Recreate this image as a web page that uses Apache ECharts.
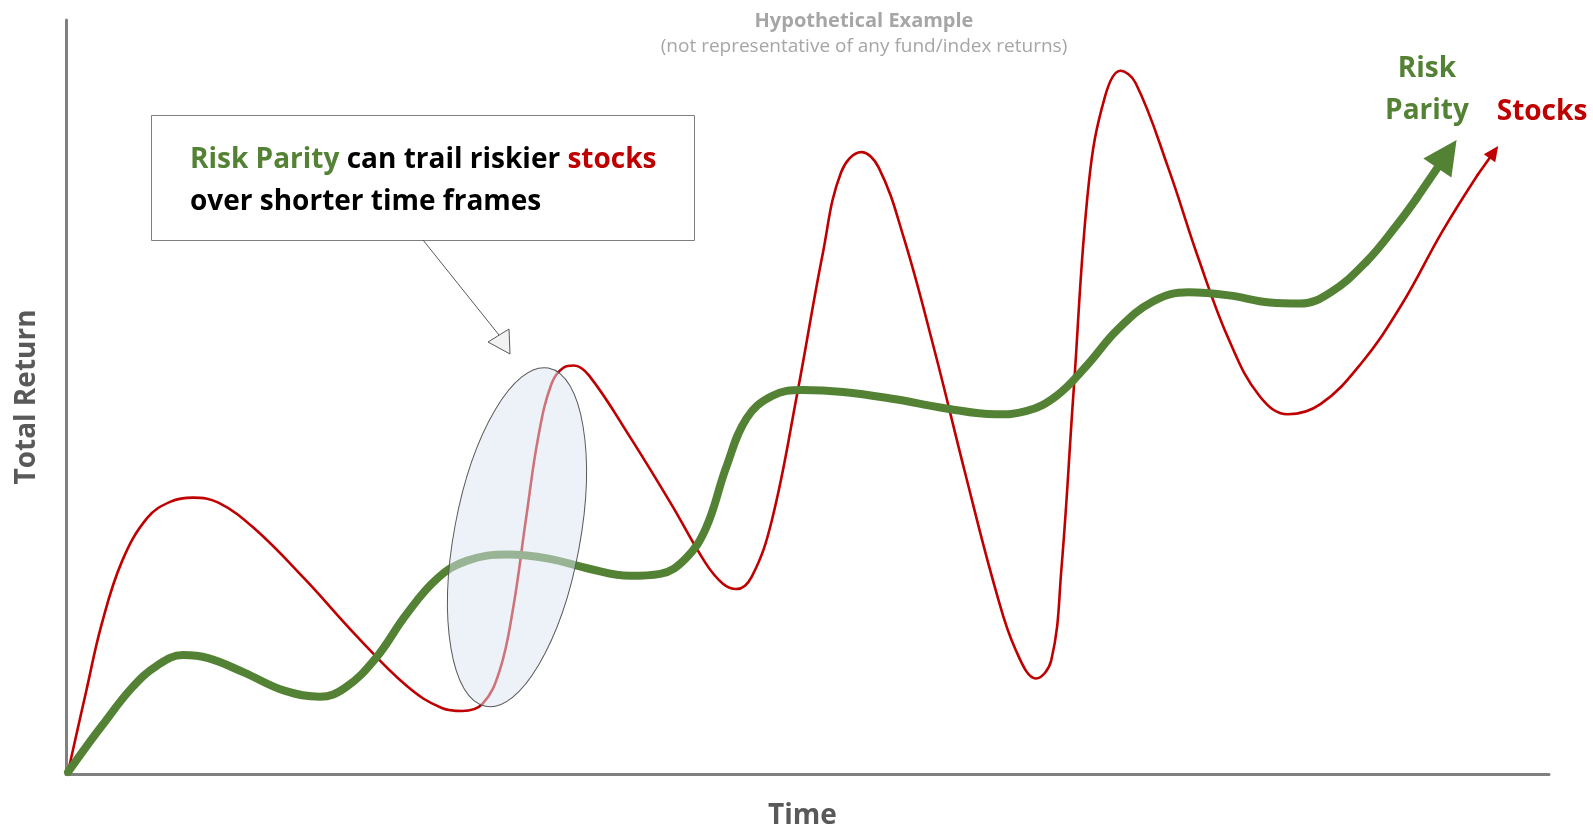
<!DOCTYPE html>
<html>
<head>
<meta charset="utf-8">
<script src="https://cdn.jsdelivr.net/npm/echarts@6/dist/echarts.min.js"></script>
<style>
  html, body { margin: 0; padding: 0; background: #ffffff; }
  #chart { width: 1593px; height: 827px; }
</style>
</head>
<body>
<div id="chart"></div>
<script>
// Hypothetical growth paths (time units, total-return units)
const stocksTime  = [2, 20, 35, 55, 80, 103, 125, 150, 185, 235, 285, 335, 370, 390, 410, 427, 440, 453, 465, 478, 490, 500, 515, 555, 595, 630, 647, 660, 675, 695, 720, 745, 763, 783, 800, 825, 855, 885, 915, 935, 955, 970, 980, 992, 1007, 1023, 1038, 1053, 1085, 1115, 1145, 1175, 1203, 1235, 1275, 1315, 1355, 1390];
const stocksValue = [2, 82, 147, 209, 252, 268, 272, 267, 242, 192, 137, 87, 65, 62, 69, 102, 162, 252, 332, 384, 400, 402, 392, 332, 267, 207, 187, 182, 194, 250, 375, 512, 592, 612, 597, 527, 417, 297, 182, 122, 94, 112, 202, 377, 582, 667, 692, 680, 597, 507, 427, 372, 354, 364, 404, 462, 534, 590];
const stocksTip   = [1410, 618];

const riskParityTime  = [2, 20, 35, 65, 90, 115, 140, 175, 215, 250, 275, 305, 335, 365, 395, 435, 475, 515, 555, 585, 610, 630, 650, 670, 695, 725, 765, 815, 865, 915, 945, 975, 1005, 1035, 1070, 1105, 1145, 1185, 1215, 1245, 1280, 1310, 1330];
const riskParityValue = [2, 27, 47, 85, 107, 117, 114, 100, 82, 76, 85, 114, 157, 192, 210, 216, 212, 202, 195, 197, 212, 242, 302, 350, 372, 378, 376, 369, 360, 354, 357, 372, 402, 437, 465, 474, 471, 464, 463, 474, 504, 540, 567];
const riskParityTip   = [1369, 624];

// Short-horizon window highlighted on the chart
const windowCenter = [444, 233];

const xMax = 1460;
const yMax = 742;

const GREEN = '#548235';
const RED = '#c00000';
const FONT = '"Open Sans", Lato, sans-serif';

const zip = (xs, ys) => xs.map((x, i) => [x, ys[i]]);
const last = (arr) => arr[arr.length - 1];

// Straight end segment of a path finished with a filled triangular arrowhead
function arrowSeries(from, tip, color, width, headLen, headWidth, z) {
  return {
    type: 'custom', coordinateSystem: 'cartesian2d', z: z, silent: true, clip: false,
    data: [[from[0], from[1], tip[0], tip[1]]],
    renderItem: function (params, api) {
      const p0 = api.coord([api.value(0), api.value(1)]);
      const p1 = api.coord([api.value(2), api.value(3)]);
      const dx = p1[0] - p0[0], dy = p1[1] - p0[1];
      const len = Math.sqrt(dx * dx + dy * dy) || 1;
      const ux = dx / len, uy = dy / len;
      const bx = p1[0] - ux * headLen, by = p1[1] - uy * headLen;
      const nx = -uy * headWidth / 2, ny = ux * headWidth / 2;
      return {
        type: 'group',
        children: [
          {
            type: 'line',
            shape: { x1: p0[0], y1: p0[1], x2: bx + ux * 2, y2: by + uy * 2 },
            style: { stroke: color, lineWidth: width, lineCap: 'round' }
          },
          {
            type: 'polygon',
            shape: { points: [[p1[0], p1[1]], [bx + nx, by + ny], [bx - nx, by - ny]] },
            style: { fill: color }
          }
        ]
      };
    }
  };
}

const chart = echarts.init(document.getElementById('chart'), null, { renderer: 'canvas' });

chart.setOption({
  animation: false,
  backgroundColor: '#ffffff',
  grid: { left: 66, right: 44, top: 20, bottom: 53, containLabel: false, outerBoundsMode: 'none' },
  xAxis: {
    type: 'value', min: 0, max: xMax,
    name: 'Time', nameLocation: 'middle', nameGap: 28,
    nameTextStyle: { fontFamily: FONT, fontWeight: 'bold', fontSize: 28, color: '#595959', padding: [0, 10, 0, 0] },
    axisLine: { show: true, lineStyle: { color: '#808080', width: 3 } },
    axisTick: { show: false }, axisLabel: { show: false }, splitLine: { show: false }
  },
  yAxis: {
    type: 'value', min: 0, max: yMax,
    name: 'Total Return', nameLocation: 'middle', nameGap: 25,
    nameTextStyle: { fontFamily: FONT, fontWeight: 'bold', fontSize: 28, color: '#595959' },
    axisLine: { show: true, lineStyle: { color: '#808080', width: 3 } },
    axisTick: { show: false }, axisLabel: { show: false }, splitLine: { show: false }
  },
  series: [
    {
      name: 'Stocks', type: 'line', z: 2,
      data: zip(stocksTime, stocksValue),
      smooth: 0.4,
      showSymbol: false, symbol: 'none',
      lineStyle: { color: RED, width: 2.6, cap: 'round', join: 'round' }
    },
    arrowSeries([last(stocksTime), last(stocksValue)], stocksTip, RED, 2.6, 15, 14, 2),
    {
      name: 'Risk Parity', type: 'line', z: 3,
      data: zip(riskParityTime, riskParityValue),
      smooth: 0.4,
      showSymbol: false, symbol: 'none',
      lineStyle: { color: GREEN, width: 8, cap: 'round', join: 'round' }
    },
    arrowSeries([last(riskParityTime), last(riskParityValue)], riskParityTip, GREEN, 8, 34, 34, 3),
    {
      name: 'window', type: 'custom', z: 6, silent: true, clip: false,
      data: [windowCenter],
      renderItem: function (params, api) {
        const p = api.coord([api.value(0), api.value(1)]);
        return {
          type: 'ellipse',
          x: p[0], y: p[1],
          rotation: -10.5 * Math.PI / 180,
          shape: { cx: 0, cy: 0, rx: 63, ry: 172 },
          style: { fill: 'rgba(219,229,243,0.5)', stroke: '#595959', lineWidth: 1 }
        };
      }
    }
  ],
  graphic: [
    {
      type: 'text', x: 864, y: 21, z: 10,
      style: { text: 'Hypothetical Example', font: 'bold 20px ' + FONT, fill: '#a6a6a6', align: 'center', verticalAlign: 'middle' }
    },
    {
      type: 'text', x: 864, y: 47, z: 10,
      style: { text: '(not representative of any fund/index returns)', font: '19px ' + FONT, fill: '#a6a6a6', align: 'center', verticalAlign: 'middle' }
    },
    {
      type: 'rect', z: 10,
      shape: { x: 151.5, y: 115.5, width: 543, height: 125 },
      style: { fill: '#ffffff', stroke: '#7f7f7f', lineWidth: 1 }
    },
    {
      type: 'text', x: 190, y: 181, z: 11,
      style: {
        text: '{g|Risk Parity} {k|can trail riskier} {r|stocks}\n{k|over shorter time frames}',
        font: 'bold 28px ' + FONT,
        verticalAlign: 'middle',
        lineHeight: 42,
        rich: {
          g: { fill: GREEN, font: 'bold 28px ' + FONT, lineHeight: 42 },
          k: { fill: '#000000', font: 'bold 28px ' + FONT, lineHeight: 42 },
          r: { fill: RED, font: 'bold 28px ' + FONT, lineHeight: 42 }
        }
      }
    },
    {
      type: 'line', z: 10,
      shape: { x1: 423, y1: 240, x2: 499, y2: 335 },
      style: { stroke: '#595959', lineWidth: 1 }
    },
    {
      type: 'polygon', z: 10,
      shape: { points: [[510, 354], [488, 342], [509, 329]] },
      style: { fill: '#f2f2f2', stroke: '#595959', lineWidth: 1 }
    },
    {
      type: 'text', x: 1427, y: 90, z: 10,
      style: { text: 'Risk\nParity', font: 'bold 28px ' + FONT, fill: GREEN, align: 'center', verticalAlign: 'middle', lineHeight: 42 }
    },
    {
      type: 'text', x: 1542, y: 112, z: 10,
      style: { text: 'Stocks', font: 'bold 28px ' + FONT, fill: RED, align: 'center', verticalAlign: 'middle' }
    }
  ]
});
</script>
</body>
</html>
